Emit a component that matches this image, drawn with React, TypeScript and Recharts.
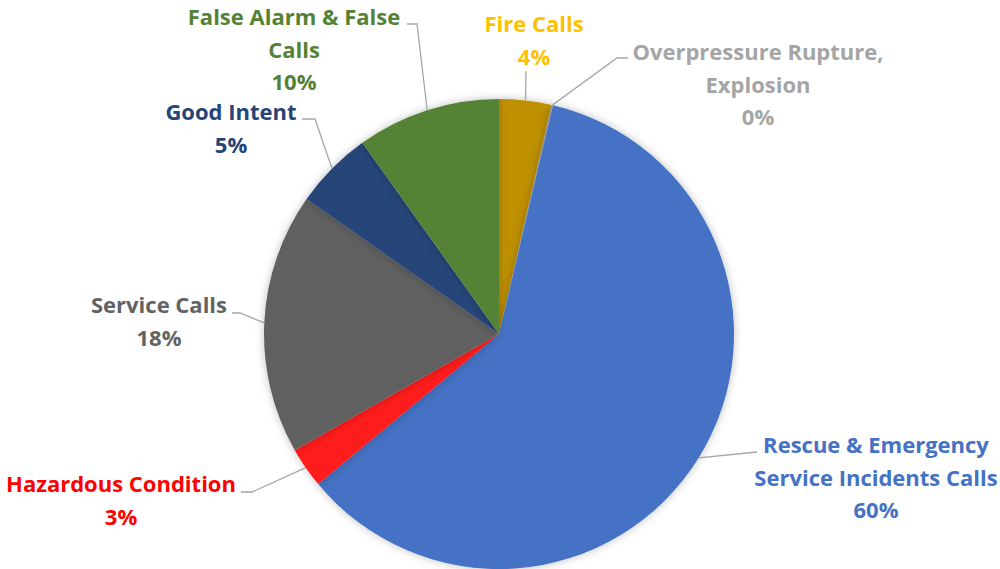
import React from "react";
import { PieChart, Pie, Cell } from "recharts";

// slices clockwise from 12 o'clock
const categories = [
  "Fire Calls",
  "Overpressure Rupture, Explosion",
  "Rescue & Emergency Service Incidents Calls",
  "Hazardous Condition",
  "Service Calls",
  "Good Intent",
  "False Alarm & False Calls",
];
const shares = [3.6, 0.1, 60.4, 2.8, 18.0, 5.4, 9.9];

// label text split the way the original wraps it
const labelLines = [
  ["Fire Calls"],
  ["Overpressure Rupture,", "Explosion"],
  ["Rescue & Emergency", "Service Incidents Calls"],
  ["Hazardous Condition"],
  ["Service Calls"],
  ["Good Intent"],
  ["False Alarm & False", "Calls"],
];

const sliceColors = ["#BF9000", "#A5A5A5", "#4472C4", "#FF1A1A", "#616161", "#264478", "#548235"];
const textColors = ["#FFC000", "#A5A5A5", "#4472C4", "#FF0000", "#636363", "#264478", "#548235"];

// label placement relative to pie centre: bend of leader line, end of leader line, text centre x, first baseline
const placement = [
  { bend: null, end: [27, -263], tx: 35, ty: -302 },
  { bend: [118, -276], end: [129, -276], tx: 259, ty: -274 },
  { bend: null, end: [258, 118], tx: 377, ty: 119 },
  { bend: [-247, 158], end: [-258, 158], tx: -378, ty: 158 },
  { bend: [-259, -21], end: [-267, -21], tx: -340, ty: -21 },
  { bend: [-184, -215], end: [-197, -215], tx: -268, ty: -214 },
  { bend: [-82, -310], end: [-92, -310], tx: -205, ty: -309 },
];

const data = categories.map((name, i) => ({ name, value: shares[i] }));

const RAD = Math.PI / 180;
const LINE_H = 32.5;

const renderLabel = (props: any) => {
  const { cx, cy, midAngle, outerRadius, percent, index } = props;
  const p = placement[index];
  const sx = cx + outerRadius * Math.cos(-midAngle * RAD);
  const sy = cy + outerRadius * Math.sin(-midAngle * RAD);
  const pts = [[sx, sy]];
  if (p.bend) pts.push([cx + p.bend[0], cy + p.bend[1]]);
  pts.push([cx + p.end[0], cy + p.end[1]]);
  const lines = [...labelLines[index], `${Math.round(percent * 100)}%`];
  return (
    <g key={`lbl-${index}`}>
      <polyline
        points={pts.map((q) => q.join(",")).join(" ")}
        fill="none"
        stroke="#A6A6A6"
        strokeWidth={1.3}
      />
      <text
        x={cx + p.tx}
        y={cy + p.ty}
        textAnchor="middle"
        fill={textColors[index]}
        fontFamily="'Open Sans', Lato, sans-serif"
        fontWeight={700}
        fontSize={22}
      >
        {lines.map((t, k) => (
          <tspan key={k} x={cx + p.tx} dy={k === 0 ? 0 : LINE_H}>
            {t}
          </tspan>
        ))}
      </text>
    </g>
  );
};

export default function App() {
  return (
    <div style={{ position: "absolute", left: 0, top: 0, width: 1000, height: 569, background: "#fff" }}>
      <PieChart width={1000} height={569} margin={{ top: 0, right: 0, bottom: 0, left: 0 }}>
        <defs>
          <filter id="pieShadow" x="-10%" y="-10%" width="120%" height="120%">
            <feDropShadow dx="0" dy="0" stdDeviation="4" floodColor="#000" floodOpacity="0.25" />
          </filter>
        </defs>
        <Pie
          data={data}
          dataKey="value"
          nameKey="name"
          cx={499}
          cy={334}
          outerRadius={235}
          startAngle={90}
          endAngle={-270}
          stroke="none"
          labelLine={false}
          label={renderLabel}
          isAnimationActive={false}
          style={{ filter: "url(#pieShadow)" }}
        >
          {data.map((d, i) => (
            <Cell key={d.name} fill={sliceColors[i]} stroke="none" />
          ))}
        </Pie>
      </PieChart>
    </div>
  );
}
